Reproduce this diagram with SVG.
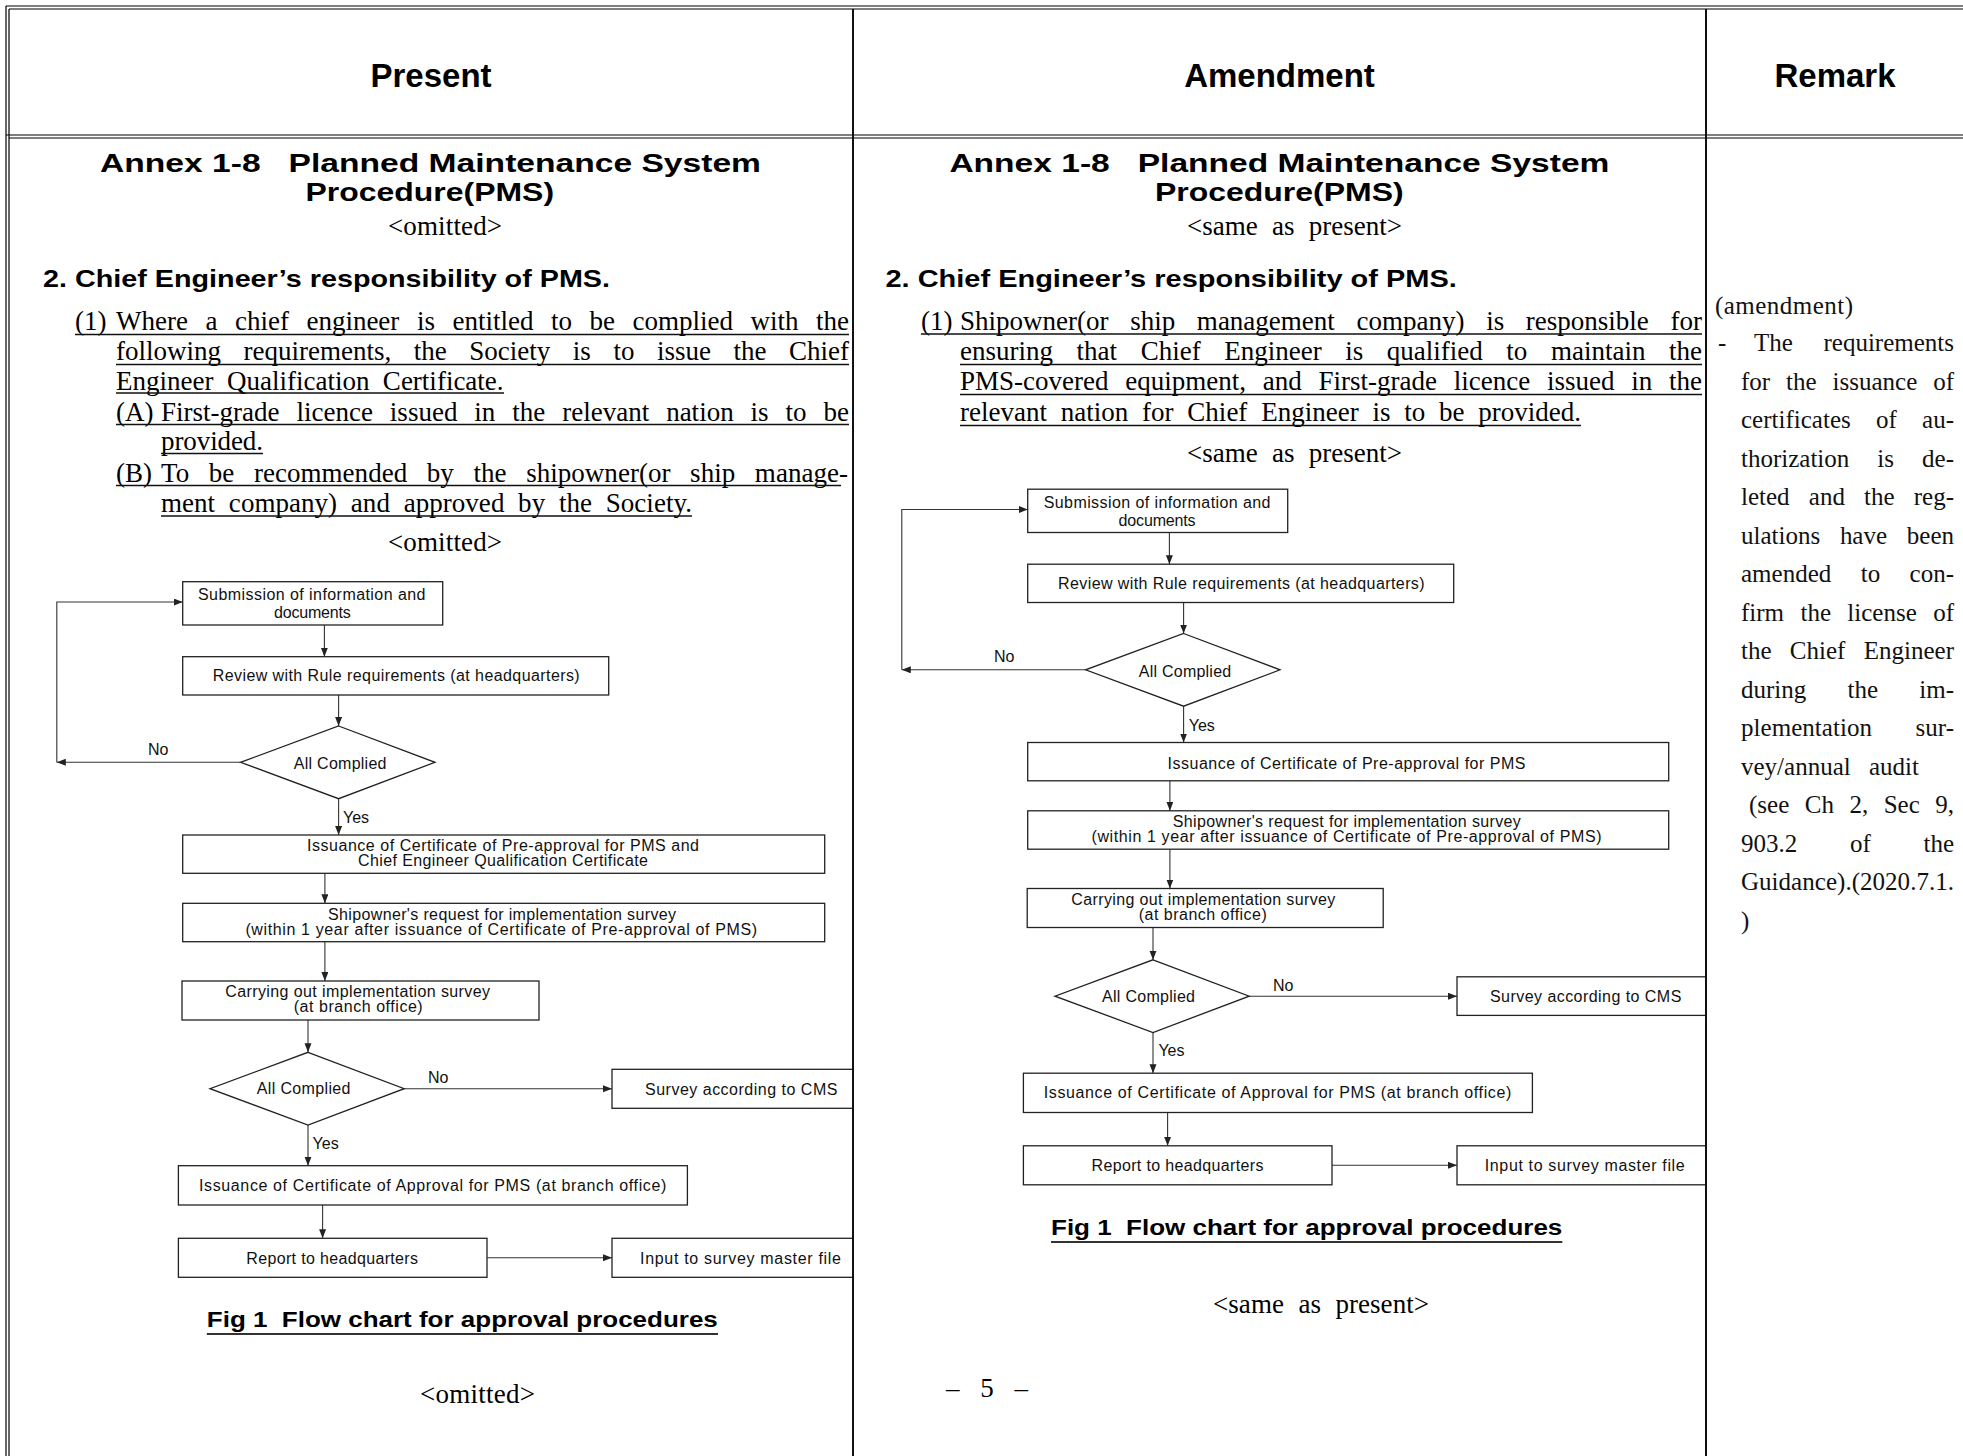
<svg xmlns="http://www.w3.org/2000/svg" width="1963" height="1456" viewBox="0 0 1963 1456">
<style>
.frame{stroke:#000;stroke-width:1.2;fill:none}
.div{stroke:#111;stroke-width:2;fill:none}
.box{fill:#fff;stroke:#222;stroke-width:1.3}
.conn path{fill:none;stroke:#333;stroke-width:1.1}
.hd{font-family:'Liberation Sans',Arial,sans-serif;font-weight:bold;font-size:33px;fill:#000;text-anchor:middle}
.ttl{font-family:'Liberation Sans',Arial,sans-serif;font-weight:bold;font-size:26px;fill:#000;text-anchor:middle}
.sec{font-family:'Liberation Sans',Arial,sans-serif;font-weight:bold;font-size:24px;fill:#000}
.cap{font-family:'Liberation Sans',Arial,sans-serif;font-weight:bold;font-size:22px;fill:#000}
.body{font-family:'Liberation Serif','Times New Roman',serif;font-size:27px;fill:#000}
.rm{font-family:'Liberation Serif','Times New Roman',serif;font-size:25px;fill:#111}
.fc{font-family:'Liberation Sans',Arial,sans-serif;font-size:16px;fill:#111}
.ul{stroke:#111;stroke-width:1.4}
.cul{stroke:#333;stroke-width:2}
</style>
<defs>
<marker id="ah" markerUnits="userSpaceOnUse" markerWidth="10" markerHeight="8" refX="9" refY="3.5" orient="auto">
<path d="M0,0 L9,3.5 L0,7 z" fill="#222"/>
</marker>
</defs>
<rect width="1963" height="1456" fill="#fff"/>

<g id="table">
<line class="frame" x1="6" y1="6" x2="1963" y2="6"/>
<line class="frame" x1="9" y1="9" x2="1963" y2="9"/>
<line class="frame" x1="6" y1="6" x2="6" y2="1456"/>
<line class="frame" x1="9" y1="9" x2="9" y2="1456"/>
<line class="frame" x1="6" y1="135" x2="1963" y2="135"/>
<line class="frame" x1="9" y1="138" x2="1963" y2="138"/>
<line class="div" x1="853" y1="9" x2="853" y2="1456"/>
<line class="div" x1="1706" y1="9" x2="1706" y2="1456"/>
<text class="hd" x="431" y="87">Present</text>
<text class="hd" x="1279.5" y="87">Amendment</text>
<text class="hd" x="1835" y="87">Remark</text>
</g>

<g id="present-text">
<text class="ttl" x="430.5" y="172" textLength="661" lengthAdjust="spacingAndGlyphs" xml:space="preserve">Annex 1-8   Planned Maintenance System</text>
<text class="ttl" x="429.8" y="201" textLength="248.5" lengthAdjust="spacingAndGlyphs">Procedure(PMS)</text>
<text class="body" x="388" y="235" textLength="114" lengthAdjust="spacing">&lt;omitted&gt;</text>
<text class="sec" x="43" y="287" textLength="567" lengthAdjust="spacingAndGlyphs">2. Chief Engineer’s responsibility of PMS.</text>
<text class="body" x="75" y="330">(1)</text>
<text class="body" x="116" y="330" word-spacing="10.8" textLength="733" lengthAdjust="spacing">Where a chief engineer is entitled to be complied with the</text>
<line class="ul" x1="75" y1="334.5" x2="849" y2="334.5"/>
<text class="body" x="116" y="360" word-spacing="15.8" textLength="733" lengthAdjust="spacing">following requirements, the Society is to issue the Chief</text>
<line class="ul" x1="116" y1="364.5" x2="849" y2="364.5"/>
<text class="body" x="116" y="390" word-spacing="6.7" textLength="387.6" lengthAdjust="spacing">Engineer Qualification Certificate.</text>
<line class="ul" x1="116" y1="393" x2="504" y2="393"/>
<text class="body" x="116" y="421">(A)</text>
<text class="body" x="161" y="421" word-spacing="10.2" textLength="688" lengthAdjust="spacing">First-grade licence issued in the relevant nation is to be</text>
<line class="ul" x1="116" y1="424.5" x2="849" y2="424.5"/>
<text class="body" x="161" y="450" textLength="102" lengthAdjust="spacing">provided.</text>
<line class="ul" x1="161" y1="453.5" x2="263" y2="453.5"/>
<text class="body" x="116" y="482">(B)</text>
<text class="body" x="161" y="482" word-spacing="12.8" textLength="687" lengthAdjust="spacing">To be recommended by the shipowner(or ship manage-</text>
<line class="ul" x1="116" y1="485.5" x2="841" y2="485.5"/>
<text class="body" x="161" y="512" word-spacing="6.9" textLength="531" lengthAdjust="spacing">ment company) and approved by the Society.</text>
<line class="ul" x1="161" y1="516" x2="692" y2="516"/>
<text class="body" x="388" y="551" textLength="114" lengthAdjust="spacing">&lt;omitted&gt;</text>
<text class="cap" x="206.8" y="1327" textLength="511" lengthAdjust="spacingAndGlyphs" xml:space="preserve">Fig 1  Flow chart for approval procedures</text>
<line class="cul" x1="206.8" y1="1334" x2="718" y2="1334"/>
<text class="body" x="420" y="1403" textLength="115" lengthAdjust="spacing">&lt;omitted&gt;</text>
</g>

<g id="amendment-text">
<text class="ttl" x="1279.4" y="172" textLength="660" lengthAdjust="spacingAndGlyphs" xml:space="preserve">Annex 1-8   Planned Maintenance System</text>
<text class="ttl" x="1279.3" y="201" textLength="248.6" lengthAdjust="spacingAndGlyphs">Procedure(PMS)</text>
<text class="body" x="1187" y="235" word-spacing="7.6" textLength="215" lengthAdjust="spacing">&lt;same as present&gt;</text>
<text class="sec" x="885.5" y="287" textLength="571.3" lengthAdjust="spacingAndGlyphs">2. Chief Engineer’s responsibility of PMS.</text>
<text class="body" x="921" y="330">(1)</text>
<text class="body" x="960" y="330" word-spacing="14.9" textLength="742" lengthAdjust="spacing">Shipowner(or ship management company) is responsible for</text>
<line class="ul" x1="921" y1="334" x2="1702" y2="334"/>
<text class="body" x="960" y="360" word-spacing="16.8" textLength="742" lengthAdjust="spacing">ensuring that Chief Engineer is qualified to maintain the</text>
<line class="ul" x1="960" y1="364.5" x2="1702" y2="364.5"/>
<text class="body" x="960" y="390" word-spacing="10" textLength="742" lengthAdjust="spacing">PMS-covered equipment, and First-grade licence issued in the</text>
<line class="ul" x1="960" y1="394.5" x2="1702" y2="394.5"/>
<text class="body" x="960" y="421" word-spacing="7" textLength="621" lengthAdjust="spacing">relevant nation for Chief Engineer is to be provided.</text>
<line class="ul" x1="960" y1="425.5" x2="1581" y2="425.5"/>
<text class="body" x="1187" y="462" word-spacing="7.6" textLength="215" lengthAdjust="spacing">&lt;same as present&gt;</text>
<text class="cap" x="1051" y="1235" textLength="511.3" lengthAdjust="spacingAndGlyphs" xml:space="preserve">Fig 1  Flow chart for approval procedures</text>
<line class="cul" x1="1051" y1="1242" x2="1562.3" y2="1242"/>
<text class="body" x="1213" y="1313" word-spacing="7.6" textLength="216" lengthAdjust="spacing">&lt;same as present&gt;</text>
<text class="body" x="946" y="1397" word-spacing="14" textLength="82" lengthAdjust="spacing">– 5 –</text>
</g>

<g id="remark-text">
<text class="rm" x="1715" y="314" textLength="138" lengthAdjust="spacing">(amendment)</text>
<text class="rm" x="1718" y="351">-</text>
<text class="rm" x="1754" y="351" word-spacing="24.4" textLength="200" lengthAdjust="spacing">The requirements</text>
<text class="rm" x="1741" y="389.5" word-spacing="9.7" textLength="213" lengthAdjust="spacing">for the issuance of</text>
<text class="rm" x="1741" y="428" word-spacing="19" textLength="213" lengthAdjust="spacing">certificates of au-</text>
<text class="rm" x="1741" y="466.5" word-spacing="21.8" textLength="213" lengthAdjust="spacing">thorization is de-</text>
<text class="rm" x="1741" y="505" word-spacing="12.9" textLength="213" lengthAdjust="spacing">leted and the reg-</text>
<text class="rm" x="1741" y="543.5" word-spacing="13.5" textLength="213" lengthAdjust="spacing">ulations have been</text>
<text class="rm" x="1741" y="582" word-spacing="23.2" textLength="213" lengthAdjust="spacing">amended to con-</text>
<text class="rm" x="1741" y="620.5" word-spacing="10.1" textLength="213" lengthAdjust="spacing">firm the license of</text>
<text class="rm" x="1741" y="659" word-spacing="12" textLength="213" lengthAdjust="spacing">the Chief Engineer</text>
<text class="rm" x="1741" y="697.5" word-spacing="35" textLength="213" lengthAdjust="spacing">during the im-</text>
<text class="rm" x="1741" y="736" word-spacing="37.3" textLength="213" lengthAdjust="spacing">plementation sur-</text>
<text class="rm" x="1741" y="774.5" word-spacing="12" textLength="178" lengthAdjust="spacing">vey/annual audit</text>
<text class="rm" x="1749" y="813" word-spacing="9.2" textLength="205" lengthAdjust="spacing">(see Ch 2, Sec 9,</text>
<text class="rm" x="1741" y="851.5" word-spacing="46.5" textLength="213" lengthAdjust="spacing">903.2 of the</text>
<text class="rm" x="1741" y="890" textLength="213" lengthAdjust="spacing">Guidance).(2020.7.1.</text>
<text class="rm" x="1741" y="928.5">)</text>
</g>

<g class="conn" id="connectors">
<path marker-end="url(#ah)" d="M324.4,625 V656.7"/>
<path marker-end="url(#ah)" d="M338.6,695 V726"/>
<path marker-end="url(#ah)" d="M240.6,762.3 H56.8"/>
<path marker-end="url(#ah)" d="M56.8,762.3 V602 H182.7"/>
<path marker-end="url(#ah)" d="M338.6,798.7 V835"/>
<path marker-end="url(#ah)" d="M324.9,873.3 V903.3"/>
<path marker-end="url(#ah)" d="M324.9,941.7 V981"/>
<path marker-end="url(#ah)" d="M308,1020 V1052.3"/>
<path marker-end="url(#ah)" d="M404.2,1088.7 H612"/>
<path marker-end="url(#ah)" d="M308,1125 V1165.7"/>
<path marker-end="url(#ah)" d="M322.6,1205 V1238.3"/>
<path marker-end="url(#ah)" d="M487,1257.8 H612"/>
<path marker-end="url(#ah)" d="M1169.4,532.5 V564.2"/>
<path marker-end="url(#ah)" d="M1183.6,602.5 V633.5"/>
<path marker-end="url(#ah)" d="M1085.6,669.8 H901.8"/>
<path marker-end="url(#ah)" d="M901.8,669.8 V509.5 H1027.7"/>
<path marker-end="url(#ah)" d="M1183.6,706.2 V742.5"/>
<path marker-end="url(#ah)" d="M1169.9,780.8 V810.8"/>
<path marker-end="url(#ah)" d="M1169.9,849.2 V888.5"/>
<path marker-end="url(#ah)" d="M1153,927.5 V959.8"/>
<path marker-end="url(#ah)" d="M1249.2,996.2 H1457"/>
<path marker-end="url(#ah)" d="M1153,1032.5 V1073.2"/>
<path marker-end="url(#ah)" d="M1167.6,1112.5 V1145.8"/>
<path marker-end="url(#ah)" d="M1332,1165.3 H1457"/>
</g>

<g id="p-submission"><rect class="box" x="182.7" y="581.7" width="260" height="43.3"/>
<text class="fc" x="198" y="600" textLength="227.5" lengthAdjust="spacing">Submission of information and</text>
<text class="fc" x="274" y="618" textLength="76.7" lengthAdjust="spacing">documents</text></g>
<g id="p-review"><rect class="box" x="182.7" y="656.7" width="426" height="38.3"/>
<text class="fc" x="212.7" y="681" textLength="367" lengthAdjust="spacing">Review with Rule requirements (at headquarters)</text></g>
<g id="p-complied1"><polygon class="box" points="338.6,726 435,762.3 338.6,798.7 240.6,762.3"/>
<text class="fc" x="293.8" y="769" textLength="92.7" lengthAdjust="spacing">All Complied</text>
<text class="fc" x="148" y="755">No</text>
<text class="fc" x="343" y="823">Yes</text></g>
<g id="p-preapproval"><rect class="box" x="182.7" y="835" width="642" height="38.3"/>
<text class="fc" x="307" y="851" textLength="392" lengthAdjust="spacing">Issuance of Certificate of Pre-approval for PMS and</text>
<text class="fc" x="358" y="866" textLength="290" lengthAdjust="spacing">Chief Engineer Qualification Certificate</text></g>
<g id="p-request"><rect class="box" x="182.7" y="903.3" width="642" height="38.4"/>
<text class="fc" x="328" y="919.5" textLength="348" lengthAdjust="spacing">Shipowner's request for implementation survey</text>
<text class="fc" x="245.4" y="934.5" textLength="511.6" lengthAdjust="spacing">(within 1 year after issuance of Certificate of Pre-approval of PMS)</text></g>
<g id="p-carrying"><rect class="box" x="182" y="981" width="357" height="39"/>
<text class="fc" x="225.3" y="997" textLength="264.7" lengthAdjust="spacing">Carrying out implementation survey</text>
<text class="fc" x="293.7" y="1012" textLength="129" lengthAdjust="spacing">(at branch office)</text></g>
<g id="p-complied2"><polygon class="box" points="308,1052.3 404.2,1088.7 308,1125 210,1088.7"/>
<text class="fc" x="256.8" y="1094" textLength="93.7" lengthAdjust="spacing">All Complied</text>
<text class="fc" x="428" y="1083">No</text>
<text class="fc" x="312.6" y="1149">Yes</text></g>
<g id="p-cms"><rect class="box" x="612" y="1069.3" width="241" height="39"/>
<text class="fc" x="645" y="1095" textLength="192.4" lengthAdjust="spacing">Survey according to CMS</text></g>
<g id="p-approval"><rect class="box" x="178.4" y="1165.7" width="509" height="39.3"/>
<text class="fc" x="199" y="1191" textLength="467.3" lengthAdjust="spacing">Issuance of Certificate of Approval for PMS (at branch office)</text></g>
<g id="p-report"><rect class="box" x="178.4" y="1238.3" width="308.6" height="39"/>
<text class="fc" x="246.3" y="1264" textLength="171.7" lengthAdjust="spacing">Report to headquarters</text></g>
<g id="p-input"><rect class="box" x="612" y="1238.3" width="241" height="39"/>
<text class="fc" x="640" y="1264" textLength="201" lengthAdjust="spacing">Input to survey master file</text></g>

<g id="a-submission"><rect class="box" x="1027.7" y="489.2" width="260" height="43.3"/>
<text class="fc" x="1043.7" y="508" textLength="226.8" lengthAdjust="spacing">Submission of information and</text>
<text class="fc" x="1118.6" y="526" textLength="77" lengthAdjust="spacing">documents</text></g>
<g id="a-review"><rect class="box" x="1027.7" y="564.2" width="426" height="38.3"/>
<text class="fc" x="1058" y="589" textLength="366.6" lengthAdjust="spacing">Review with Rule requirements (at headquarters)</text></g>
<g id="a-complied1"><polygon class="box" points="1183.6,633.5 1280,669.8 1183.6,706.2 1085.6,669.8"/>
<text class="fc" x="1138.8" y="676.5" textLength="92.4" lengthAdjust="spacing">All Complied</text>
<text class="fc" x="994" y="662">No</text>
<text class="fc" x="1188.7" y="731">Yes</text></g>
<g id="a-preapproval"><rect class="box" x="1027.7" y="742.5" width="641" height="38.3"/>
<text class="fc" x="1167.5" y="769" textLength="358" lengthAdjust="spacing">Issuance of Certificate of Pre-approval for PMS</text></g>
<g id="a-request"><rect class="box" x="1027.7" y="810.8" width="641" height="38.4"/>
<text class="fc" x="1172.8" y="827" textLength="348" lengthAdjust="spacing">Shipowner's request for implementation survey</text>
<text class="fc" x="1091.5" y="842" textLength="510" lengthAdjust="spacing">(within 1 year after issuance of Certificate of Pre-approval of PMS)</text></g>
<g id="a-carrying"><rect class="box" x="1027.2" y="888.5" width="356" height="39"/>
<text class="fc" x="1071.3" y="904.5" textLength="264" lengthAdjust="spacing">Carrying out implementation survey</text>
<text class="fc" x="1138.8" y="919.5" textLength="128" lengthAdjust="spacing">(at branch office)</text></g>
<g id="a-complied2"><polygon class="box" points="1153,959.8 1249.2,996.2 1153,1032.5 1055,996.2"/>
<text class="fc" x="1102" y="1001.5" textLength="93" lengthAdjust="spacing">All Complied</text>
<text class="fc" x="1273" y="990.5">No</text>
<text class="fc" x="1158.4" y="1056">Yes</text></g>
<g id="a-cms"><rect class="box" x="1457" y="976.8" width="249" height="38.6"/>
<text class="fc" x="1490" y="1002" textLength="191.3" lengthAdjust="spacing">Survey according to CMS</text></g>
<g id="a-approval"><rect class="box" x="1023.4" y="1073.2" width="509" height="39.3"/>
<text class="fc" x="1043.7" y="1098" textLength="467.6" lengthAdjust="spacing">Issuance of Certificate of Approval for PMS (at branch office)</text></g>
<g id="a-report"><rect class="box" x="1023.4" y="1145.8" width="308.6" height="39"/>
<text class="fc" x="1091.5" y="1171" textLength="172" lengthAdjust="spacing">Report to headquarters</text></g>
<g id="a-input"><rect class="box" x="1457" y="1145.8" width="249" height="39"/>
<text class="fc" x="1484.7" y="1171" textLength="200" lengthAdjust="spacing">Input to survey master file</text></g>

<line class="div" x1="853" y1="1060" x2="853" y2="1290"/>
<line class="div" x1="1706" y1="970" x2="1706" y2="1190"/>
</svg>
